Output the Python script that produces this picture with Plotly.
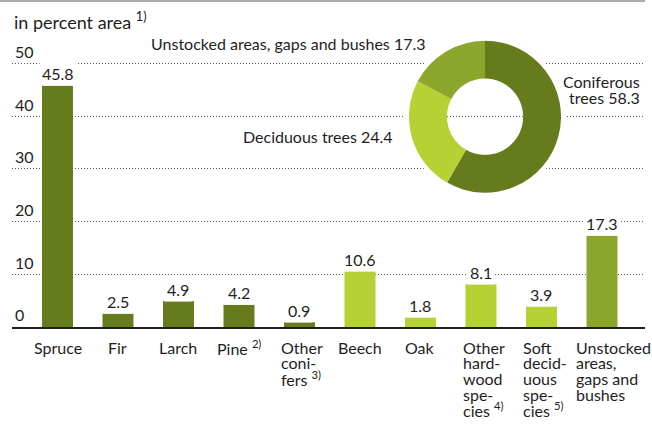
import plotly.graph_objects as go

# ---- data ----
categories = ["Spruce", "Fir", "Larch", "Pine", "Other conifers", "Beech", "Oak",
              "Other hardwood species", "Soft deciduous species",
              "Unstocked areas, gaps and bushes"]
values = [45.8, 2.5, 4.9, 4.2, 0.9, 10.6, 1.8, 8.1, 3.9, 17.3]
groups = ["conifer"] * 5 + ["deciduous"] * 4 + ["unstocked"]
label_lines = [
    ["Spruce"], ["Fir"], ["Larch"], ["Pine <sup>2)</sup>"],
    ["Other", "coni-", "fers <sup>3)</sup>"],
    ["Beech"], ["Oak"],
    ["Other", "hard-", "wood", "spe-", "cies <sup>4)</sup>"],
    ["Soft", "decid-", "uous", "spe-", "cies <sup>5)</sup>"],
    ["Unstocked", "areas,", "gaps and", "bushes"],
]
pie_labels = ["Coniferous trees", "Deciduous trees", "Unstocked areas, gaps and bushes"]
pie_values = [58.3, 24.4, 17.3]
y_ticks = [0, 10, 20, 30, 40, 50]

# ---- style ----
DARK = "#667b1c"
LIGHT = "#b4d234"
OLIVE = "#8ba62b"
group_colors = {"conifer": DARK, "deciduous": LIGHT, "unstocked": OLIVE}
TXT = "#1e1e1e"
FONT = "Lato"
FS = 16

fig = go.Figure()
fig.add_trace(go.Bar(
    x=categories, y=values,
    marker=dict(color=[group_colors[g] for g in groups], line=dict(width=0)),
    width=0.512, hoverinfo="x+y",
))

# white halo behind donut (interrupts gridlines around ring)
fig.add_trace(go.Pie(
    values=[1], labels=["halo"], hole=0.475, sort=False,
    marker=dict(colors=["white"], line=dict(width=0)),
    textinfo="none", hoverinfo="skip", showlegend=False,
    domain=dict(x=[0.6209, 0.8736], y=[0.4377, 0.9764]),
))
fig.add_trace(go.Pie(
    values=pie_values, labels=pie_labels, hole=0.502, sort=False,
    direction="clockwise", rotation=0,
    marker=dict(colors=[DARK, LIGHT, OLIVE], line=dict(width=0)),
    textinfo="none", showlegend=False,
    domain=dict(x=[0.6272, 0.8673], y=[0.4522, 0.964]),
))

annotations = []
# value labels
for c, v in zip(categories, values):
    annotations.append(dict(
        x=c, y=v, xref="x", yref="y", text=f"{v:.1f}", showarrow=False,
        yanchor="middle", yshift=12, bgcolor="white", borderpad=2,
        font=dict(family=FONT, size=FS, color=TXT)))

# category labels (line by line)
for i, (c, lines) in enumerate(zip(categories, label_lines)):
    multi = len(lines) > 1
    for j, ln in enumerate(lines):
        a = dict(x=c, xref="x", y=0, yref="paper", text=ln, showarrow=False,
                 yanchor="middle", yshift=-20 - 15.7 * j, borderpad=0,
                 font=dict(family=FONT, size=FS, color=TXT))
        if multi:
            a.update(xanchor="left", xshift=-27 if i == len(categories) - 1 else -19)
        else:
            a.update(xanchor="center")
        annotations.append(a)

# donut labels
annotations += [
    dict(x=0.657, y=0.953, xref="paper", yref="paper", xanchor="right", yanchor="middle",
         text=f"{pie_labels[2]} {pie_values[2]:.1f}", showarrow=False,
         font=dict(family=FONT, size=FS, color=TXT)),
    dict(x=0.605, y=0.640, xref="paper", yref="paper", xanchor="right", yanchor="middle",
         text=f"{pie_labels[1]} {pie_values[1]:.1f}", showarrow=False,
         font=dict(family=FONT, size=FS, color=TXT)),
    dict(x=0.9937, y=0.825, xref="paper", yref="paper", xanchor="right", yanchor="middle",
         text="Coniferous", showarrow=False, borderpad=0,
         font=dict(family=FONT, size=FS, color=TXT)),
    dict(x=0.9937, y=0.773, xref="paper", yref="paper", xanchor="right", yanchor="middle",
         text=f"trees {pie_values[0]:.1f}", showarrow=False, borderpad=0,
         font=dict(family=FONT, size=FS, color=TXT)),
    dict(x=0, y=1.030, xref="paper", yref="paper", xanchor="left", yanchor="middle",
         text="in percent area <sup>1)</sup>", showarrow=False,
         font=dict(family=FONT, size=18, color=TXT)),
]

fig.update_layout(
    width=652, height=424,
    margin=dict(l=12, r=7, t=30, b=97),
    paper_bgcolor="white", plot_bgcolor="white",
    showlegend=False,
    annotations=annotations,
    shapes=[dict(type="line", xref="paper", yref="paper", x0=-0.019, x1=1.0,
                 y0=(327 - 1) / 297, y1=(327 - 1) / 297,
                 line=dict(color="#aaaaaa", width=2))],
    xaxis=dict(range=[-0.752, 9.711], showticklabels=False, ticks="",
               showline=True, linecolor="#1e1e1e", linewidth=1.5, showgrid=False,
               fixedrange=True),
    yaxis=dict(range=[0, 56.36], tickvals=y_ticks, ticklabelposition="inside top",
               showgrid=True, gridcolor="#555555", gridwidth=1, griddash="1px,2px",
               zeroline=False, showline=False, ticks="",
               tickfont=dict(family=FONT, size=FS, color=TXT), fixedrange=True),
)

fig.write_html("out.html", config={"displayModeBar": False},
               post_script="document.body.style.margin='0';document.body.style.overflow='hidden';")
